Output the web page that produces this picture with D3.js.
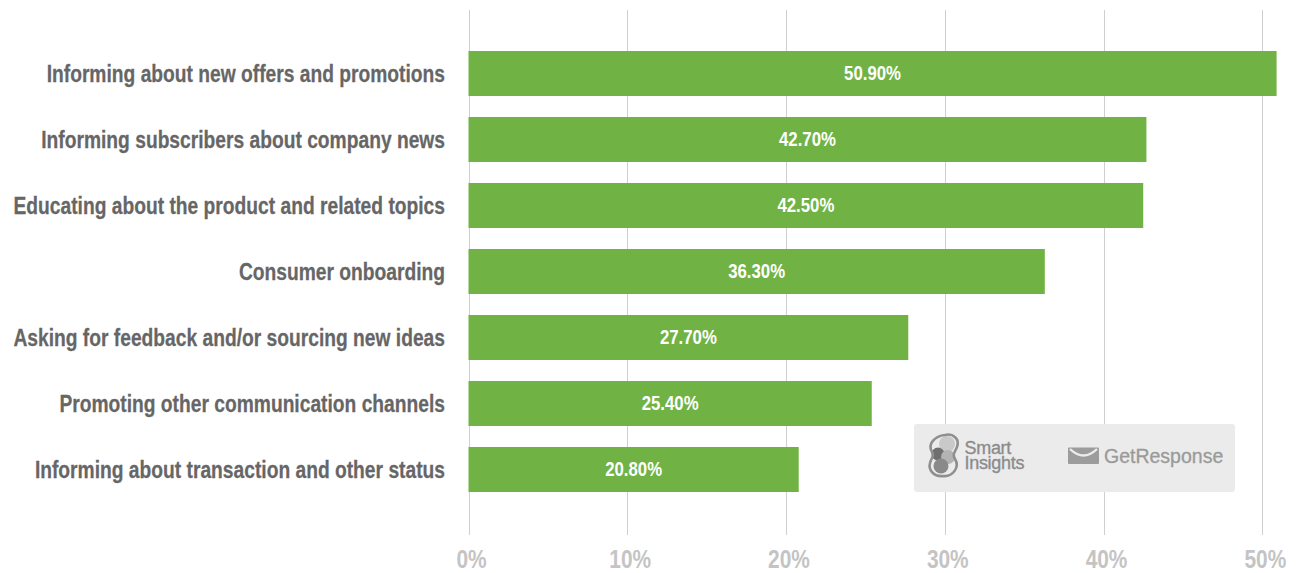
<!DOCTYPE html>
<html>
<head>
<meta charset="utf-8">
<script src="https://cdn.jsdelivr.net/npm/d3@7"></script>
<style>
  html, body { margin: 0; padding: 0; background: #ffffff; }
  svg { display: block; }
</style>
</head>
<body>
<svg id="chart" width="1296" height="573"></svg>
<script>
const categories = [
  "Informing about new offers and promotions",
  "Informing subscribers about company news",
  "Educating about the product and related topics",
  "Consumer onboarding",
  "Asking for feedback and/or sourcing new ideas",
  "Promoting other communication channels",
  "Informing about transaction and other status"
];
const values = [50.9, 42.7, 42.5, 36.3, 27.7, 25.4, 20.8];
const tickValues = [0, 10, 20, 30, 40, 50];
const tickLabels = ["0%", "10%", "20%", "30%", "40%", "50%"];

const svg = d3.select("#chart");
const FONT = "'Liberation Sans', Arial, sans-serif";
const SX = 0.82; // condensed look

const x = d3.scaleLinear().domain([0, 50]).range([468.5, 1262.3]);
const y = d3.scaleBand().domain(categories).range([40.5, 502.5])
  .paddingInner(21 / 66).paddingOuter(21 / 132);

// gridlines
svg.append("g").selectAll("line").data(tickValues).join("line")
  .attr("x1", d => Math.round(x(d)) + 0.5).attr("x2", d => Math.round(x(d)) + 0.5)
  .attr("y1", 10).attr("y2", 535)
  .attr("stroke", "#cfcfcf").attr("stroke-width", 1);

// tick labels
svg.append("g").selectAll("text").data(tickValues).join("text")
  .attr("transform", d => `translate(${x(d) + 3},568) scale(${SX},1)`)
  .attr("text-anchor", "middle")
  .attr("font-family", FONT).attr("font-weight", "bold")
  .attr("font-size", 25.5)
  .attr("fill", "#c4c4c4")
  .text((d, i) => tickLabels[i]);

// bars
svg.append("g").selectAll("rect").data(values).join("rect")
  .attr("x", x(0))
  .attr("y", (d, i) => y(categories[i]))
  .attr("width", d => x(d) - x(0))
  .attr("height", y.bandwidth())
  .attr("fill", "#70b244");

// value labels
svg.append("g").selectAll("text").data(values).join("text")
  .attr("transform", (d, i) => `translate(${(x(0) + x(d)) / 2},${y(categories[i]) + y.bandwidth() / 2 + 6.3}) scale(${SX},1)`)
  .attr("text-anchor", "middle")
  .attr("font-family", FONT).attr("font-weight", "bold")
  .attr("font-size", 20.5)
  .attr("fill", "#ffffff")
  .text(d => d.toFixed(2) + "%");

// category labels
svg.append("g").selectAll("text").data(categories).join("text")
  .attr("transform", d => `translate(445,${y(d) + y.bandwidth() / 2 + 8.3}) scale(0.815,1)`)
  .attr("text-anchor", "end")
  .attr("font-family", FONT).attr("font-weight", "bold")
  .attr("font-size", 23.6)
  .attr("fill", "#666666")
  .attr("stroke", "#666666").attr("stroke-width", 0.25)
  .text(d => d);

// logo box
const logo = svg.append("g");
logo.append("rect")
  .attr("x", 914).attr("y", 424).attr("width", 321).attr("height", 68)
  .attr("rx", 3).attr("fill", "#ebebeb");

// Smart Insights icon (approximation)
const ic = logo.append("g");
ic.append("circle").attr("cx", 947).attr("cy", 444).attr("r", 8).attr("fill", "#c9c9c9");
ic.append("circle").attr("cx", 938).attr("cy", 454).attr("r", 6.5).attr("fill", "#6f6f6f");
ic.append("circle").attr("cx", 948).attr("cy", 457).attr("r", 7).attr("fill", "#b3b3b3");
ic.append("circle").attr("cx", 941).attr("cy", 466).attr("r", 7.5).attr("fill", "#8a8a8a");
ic.append("path")
  .attr("d", "M945,435 C953,433 960,439 957,447 C955,452 952,454 955,459 C960,467 953,477 943,476 C934,477 928,470 930,463 C931,458 935,456 932,452 C927,444 935,436 945,435 Z")
  .attr("fill", "none").attr("stroke", "#8f8f8f").attr("stroke-width", 2.6);

const st = logo.append("text")
  .attr("font-family", FONT).attr("font-size", 18)
  .attr("letter-spacing", -0.3).attr("fill", "#8c8c8c")
  .attr("stroke", "#8c8c8c").attr("stroke-width", 0.35);
st.append("tspan").attr("x", 964.5).attr("y", 454.3).text("Smart");
st.append("tspan").attr("x", 964.5).attr("y", 468.5).text("Insights");

// GetResponse envelope
logo.append("rect").attr("x", 1068).attr("y", 447.5).attr("width", 31).attr("height", 16.5)
  .attr("rx", 1).attr("fill", "#9c9c9c");
logo.append("path").attr("d", "M1070,449 Q1083.5,462 1097,449")
  .attr("fill", "none").attr("stroke", "#ebebeb").attr("stroke-width", 2.4);
logo.append("text").attr("x", 1104).attr("y", 463.3)
  .attr("font-family", FONT)
  .attr("font-size", 19.5).attr("fill", "#9a9a9a")
  .attr("stroke", "#9a9a9a").attr("stroke-width", 0.3)
  .text("GetResponse");
</script>
</body>
</html>
